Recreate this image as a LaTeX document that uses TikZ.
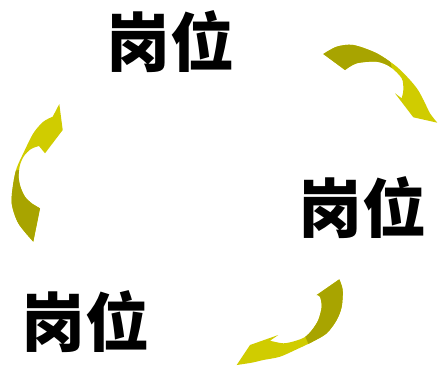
\documentclass[tikz,border=0pt]{standalone}
\usepackage{fontspec}
\newfontfamily\cjk{Noto Sans CJK SC}
\definecolor{olivedark}{RGB}{168,164,0}
\definecolor{olivelight}{RGB}{208,204,0}
\tikzset{
  lbl/.style={font=\cjk\bfseries\fontsize{64}{64}\selectfont, inner sep=0pt, text=black},
}
\begin{document}
\begin{tikzpicture}[x=1pt,y=-1pt]
\useasboundingbox (0,0) rectangle (438,367);
\node[lbl] (t1) at (170,42) {岗位};
\node[lbl] (t2) at (362,208) {岗位};
\node[lbl] (t3) at (85,322) {岗位};
% arrow 1 (top right)
\def\arrowA{(323.3,54) -- plot[smooth] coordinates {(323.3,54) (336.7,46.7) (353.3,45) (376.7,53.3) (396.7,66.7) (410,80) (418,90) (424,101) (430,113.3) (437.3,122.7)} -- (413.3,117.3) -- (395,93.3) -- (401.7,98.3) -- plot[smooth] coordinates {(401.7,98.3) (403.3,90) (401.7,78.3) (390,66.7) (376.7,61.7) (356.7,63.3) (345,70)} -- cycle}
\fill[olivelight] \arrowA;
\begin{scope}
\clip \arrowA;
\fill[olivedark] (300,30) -- (384,30) -- (394,80) -- (300,80) -- cycle;
\end{scope}
% arrow 2 (left)
\def\arrowB{(33.3,241.7) -- plot[smooth] coordinates {(33.3,241.7) (18.3,223.3) (11.7,203.3) (13.3,183.3) (16.7,168) (23.3,153.3) (33.3,133.3) (43.3,121.7) (52.7,116.7)} -- (59.3,104) -- (62.7,130) -- (45,153.3) -- plot[smooth] coordinates {(39,146) (31,149) (24,156) (20,165) (18.6,176.7) (20.5,187) (25,196.7) (31.7,203.3) (40,208.3)} -- cycle}
\fill[olivelight] \arrowB;
\begin{scope}
\clip \arrowB;
\fill[olivedark] (0,172) -- (60,166) -- (60,250) -- (0,250) -- cycle;
\end{scope}
% arrow 3 (bottom)
\def\arrowC{(339.3,279.3) -- plot[smooth] coordinates {(339.3,279.3) (342.7,290) (341.7,306.7) (336.7,320) (326.7,333.3) (312,342) (296.7,349.3) (280,356.7) (263.3,360) (251.7,362.7) (236.7,365)} -- (250,345) -- (278.3,335) -- (270,340.7) -- plot[smooth] coordinates {(270,340.7) (283.3,343.3) (295,341) (305,337) (312,330) (318.3,320) (321.7,306.7) (320,296.7) (316.7,295)} -- cycle}
\fill[olivelight] \arrowC;
\begin{scope}
\clip \arrowC;
\fill[olivedark] (298,320) -- (312,352) -- (360,352) -- (360,270) -- (298,270) -- cycle;
\end{scope}
\end{tikzpicture}
\end{document}
